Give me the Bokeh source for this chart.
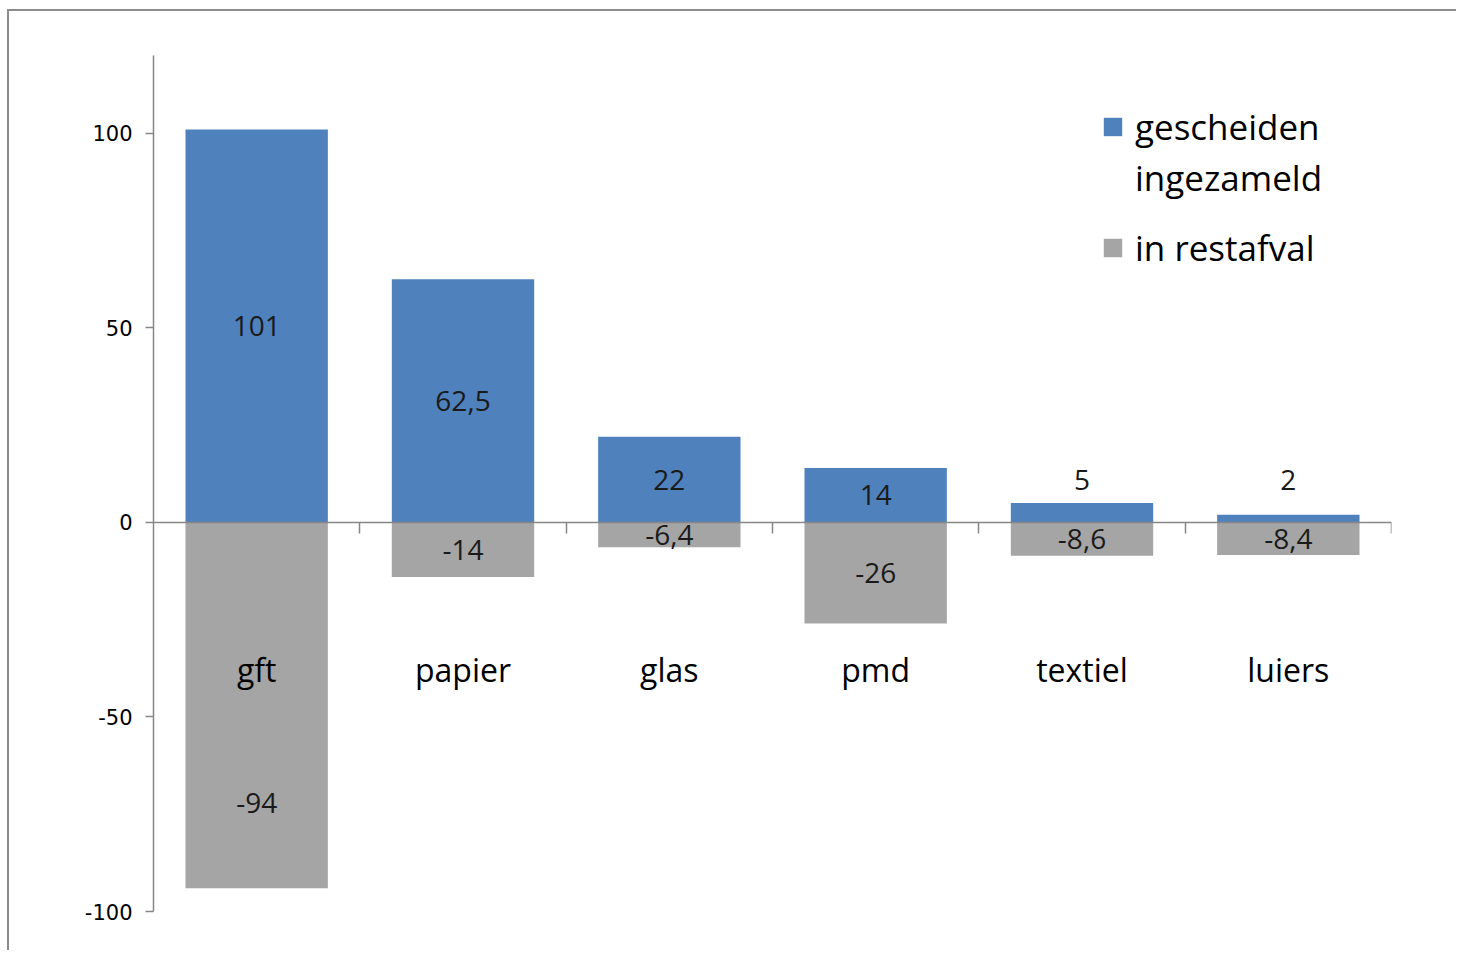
from bokeh.plotting import figure
from bokeh.models import FixedTicker, Legend, LegendItem, Range1d
from bokeh.core.properties import value
from bokeh.embed import file_html
from bokeh.resources import INLINE

# ---- data ----
categories = ["gft", "papier", "glas", "pmd", "textiel", "luiers"]
gescheiden = [101, 62.5, 22, 14, 5, 2]
restafval = [-94, -14, -6.4, -26, -8.6, -8.4]
y_ticks = [-100, -50, 0, 50, 100]
y_tick_labels = ["-100", "-50", "0", "50", "100"]
legend_lines = ["gescheiden", "ingezameld", "in restafval"]

# ---- style ----
BLUE = "#4F81BD"
GREY = "#A5A5A5"
AXIS = "#868686"
FONT = "Open Sans"
LABEL_BAND = -50   # lower edge of category label band (data units)
SMALL = 11         # bars below this get their label placed at this level


def fmt(v):
    return f"{v:g}".replace(".", ",")


xs = [i + 0.5 for i in range(len(categories))]
boundaries = [i + 1 for i in range(len(categories))]

p = figure(width=1449, height=941, x_range=Range1d(0, len(categories)),
           y_range=Range1d(-100, 120), output_backend="svg",
           toolbar_location=None, min_border_left=144, min_border_right=67,
           min_border_top=44, min_border_bottom=41)
p.styles = {"border-top": "2px solid #8c8c8c", "border-left": "2px solid #8c8c8c",
            "margin-left": "7px", "margin-top": "9px"}
p.outline_line_color = None
p.xgrid.visible = False
p.ygrid.visible = False

r1 = p.vbar(x=xs, top=gescheiden, bottom=0, width=0.69, fill_color=BLUE, line_color=None)
r2 = p.vbar(x=xs, top=restafval, bottom=0, width=0.69, fill_color=GREY, line_color=None)

# value labels
lx, ly, lt = [], [], []
for xi, v in zip(xs, gescheiden):
    lx.append(xi); ly.append(v / 2 if v >= SMALL else SMALL); lt.append(fmt(v))
for xi, v in zip(xs, restafval):
    lx.append(xi); ly.append((v + LABEL_BAND) / 2 if v < LABEL_BAND else v / 2); lt.append(fmt(v))

p.text(x=lx, y=ly, text=lt, text_align="center", text_baseline="middle",
       text_font=value(FONT), text_font_size="28px", text_color="#1a1a1a")

# x axis
xa = p.xaxis[0]
xa.fixed_location = 0
xa.ticker = FixedTicker(ticks=xs, minor_ticks=boundaries)
xa.major_label_overrides = {xi: c for xi, c in zip(xs, categories)}
xa.major_tick_line_color = None
xa.major_tick_out = 0
xa.major_tick_in = 0
xa.minor_tick_out = 11
xa.minor_tick_in = 0
xa.minor_tick_line_color = AXIS
xa.minor_tick_line_width = 1.5
xa.axis_line_color = AXIS
xa.axis_line_width = 1.5
xa.major_label_standoff = 115
xa.major_label_text_font = FONT
xa.major_label_text_font_size = "32px"
xa.major_label_text_color = "black"

# y axis
ya = p.yaxis[0]
ya.ticker = FixedTicker(ticks=y_ticks)
ya.major_label_overrides = dict(zip(y_ticks, y_tick_labels))
ya.major_tick_out = 8
ya.major_tick_in = 0
ya.minor_tick_line_color = None
ya.major_tick_line_color = AXIS
ya.major_tick_line_width = 1.5
ya.axis_line_color = AXIS
ya.axis_line_width = 1.5
ya.major_label_standoff = 13
ya.major_label_text_font = "DejaVu Sans"
ya.major_label_text_font_size = "21px"
ya.major_label_text_color = "black"

common = dict(padding=0, margin=0, border_line_color=None, background_fill_alpha=0,
              glyph_width=23, glyph_height=23, label_standoff=11,
              label_text_font=FONT, label_text_font_size="35px",
              label_text_color="black")
legend_a = Legend(items=[LegendItem(label=legend_lines[0], renderers=[r1]),
                         LegendItem(label=legend_lines[1], renderers=[])],
                  location=(948, 710), spacing=4, **common)
legend_b = Legend(items=[LegendItem(label=legend_lines[2], renderers=[r2])],
                  location=(948, 640), **common)
p.add_layout(legend_a)
p.add_layout(legend_b)

open("out.html", "w").write(file_html(p, INLINE))
